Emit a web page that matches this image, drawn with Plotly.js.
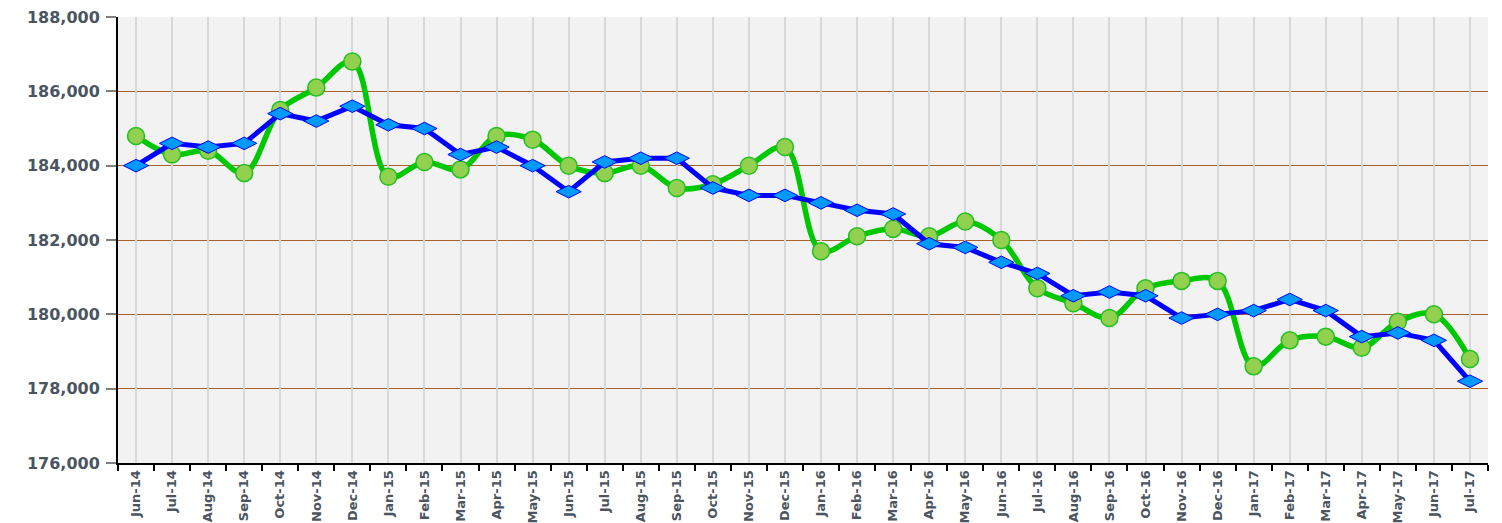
<!DOCTYPE html>
<html>
<head>
<meta charset="utf-8">
<script src="https://cdn.plot.ly/plotly-3.0.1.min.js"></script>
<style>html,body{margin:0;padding:0;background:#fff;}#chart{width:1502px;height:523px;}</style>
</head>
<body>
<div id="chart"></div>
<script>
var months = ["Jun-14","Jul-14","Aug-14","Sep-14","Oct-14","Nov-14","Dec-14","Jan-15","Feb-15","Mar-15","Apr-15","May-15","Jun-15","Jul-15","Aug-15","Sep-15","Oct-15","Nov-15","Dec-15","Jan-16","Feb-16","Mar-16","Apr-16","May-16","Jun-16","Jul-16","Aug-16","Sep-16","Oct-16","Nov-16","Dec-16","Jan-17","Feb-17","Mar-17","Apr-17","May-17","Jun-17","Jul-17"];
var greenSeries = [184800,184300,184400,183800,185500,186100,186800,183700,184100,183900,184800,184700,184000,183800,184000,183400,183500,184000,184500,181700,182100,182300,182100,182500,182000,180700,180300,179900,180700,180900,180900,178600,179300,179400,179100,179800,180000,178800];
var blueSeries = [184000,184600,184500,184600,185400,185200,185600,185100,185000,184300,184500,184000,183300,184100,184200,184200,183400,183200,183200,183000,182800,182700,181900,181800,181400,181100,180500,180600,180500,179900,180000,180100,180400,180100,179400,179500,179300,178200];
var yTicks = [176000,178000,180000,182000,184000,186000,188000];

var traces = [
  {
    x: months, y: greenSeries, type: 'scatter', mode: 'lines+markers',
    xaxis: 'x', yaxis: 'y',
    line: {color: '#00c800', width: 5.5, shape: 'spline', smoothing: 1},
    marker: {symbol: 'circle', size: 17, color: '#92d050', line: {color: '#22c022', width: 1.5}},
    hoverinfo: 'skip'
  },
  {
    x: months, y: blueSeries, type: 'scatter', mode: 'lines+markers',
    xaxis: 'x2', yaxis: 'y',
    line: {color: '#0000ff', width: 5},
    marker: {symbol: 'diamond-wide', size: 18, color: '#0099ff', line: {color: '#0000ff', width: 1}},
    hoverinfo: 'skip'
  }
];

var n = months.length;
var layout = {
  width: 1502, height: 523,
  margin: {l: 118, r: 14, t: 17, b: 60},
  paper_bgcolor: '#ffffff',
  plot_bgcolor: '#f2f2f2',
  showlegend: false,
  font: {family: 'DejaVu Sans, Verdana, sans-serif', color: '#4a5560'},
  xaxis: {
    type: 'category', range: [-0.5, n - 0.5],
    tickson: 'boundaries', ticks: 'outside', ticklen: 6, tickwidth: 2, tickcolor: '#000',
    showgrid: false, zeroline: false,
    showline: true, linecolor: '#000', linewidth: 2,
    tickangle: -90,
    tickfont: {family: 'DejaVu Sans, Verdana, sans-serif', size: 13, color: '#4a5560', weight: 'bold'}
  },
  xaxis2: {
    type: 'category', range: [-0.5, n - 0.5], overlaying: 'x', anchor: 'y',
    showgrid: true, gridcolor: '#d8d8d8', gridwidth: 2,
    showticklabels: false, ticks: '', zeroline: false, showline: false
  },
  yaxis: {
    range: [176000, 188000], tickvals: yTicks,
    tickformat: ',d',
    ticks: 'outside', ticklen: 10, tickwidth: 2, tickcolor: '#7f7f7f',
    showgrid: true, gridcolor: '#a8602c', gridwidth: 1,
    zeroline: false, showline: true, linecolor: '#000', linewidth: 2,
    ticklabelstandoff: 3,
    tickfont: {family: 'DejaVu Sans, Verdana, sans-serif', size: 16, color: '#4a5560', weight: 'bold'}
  }
};

Plotly.newPlot('chart', traces, layout, {staticPlot: true, displayModeBar: false});
</script>
</body>
</html>
